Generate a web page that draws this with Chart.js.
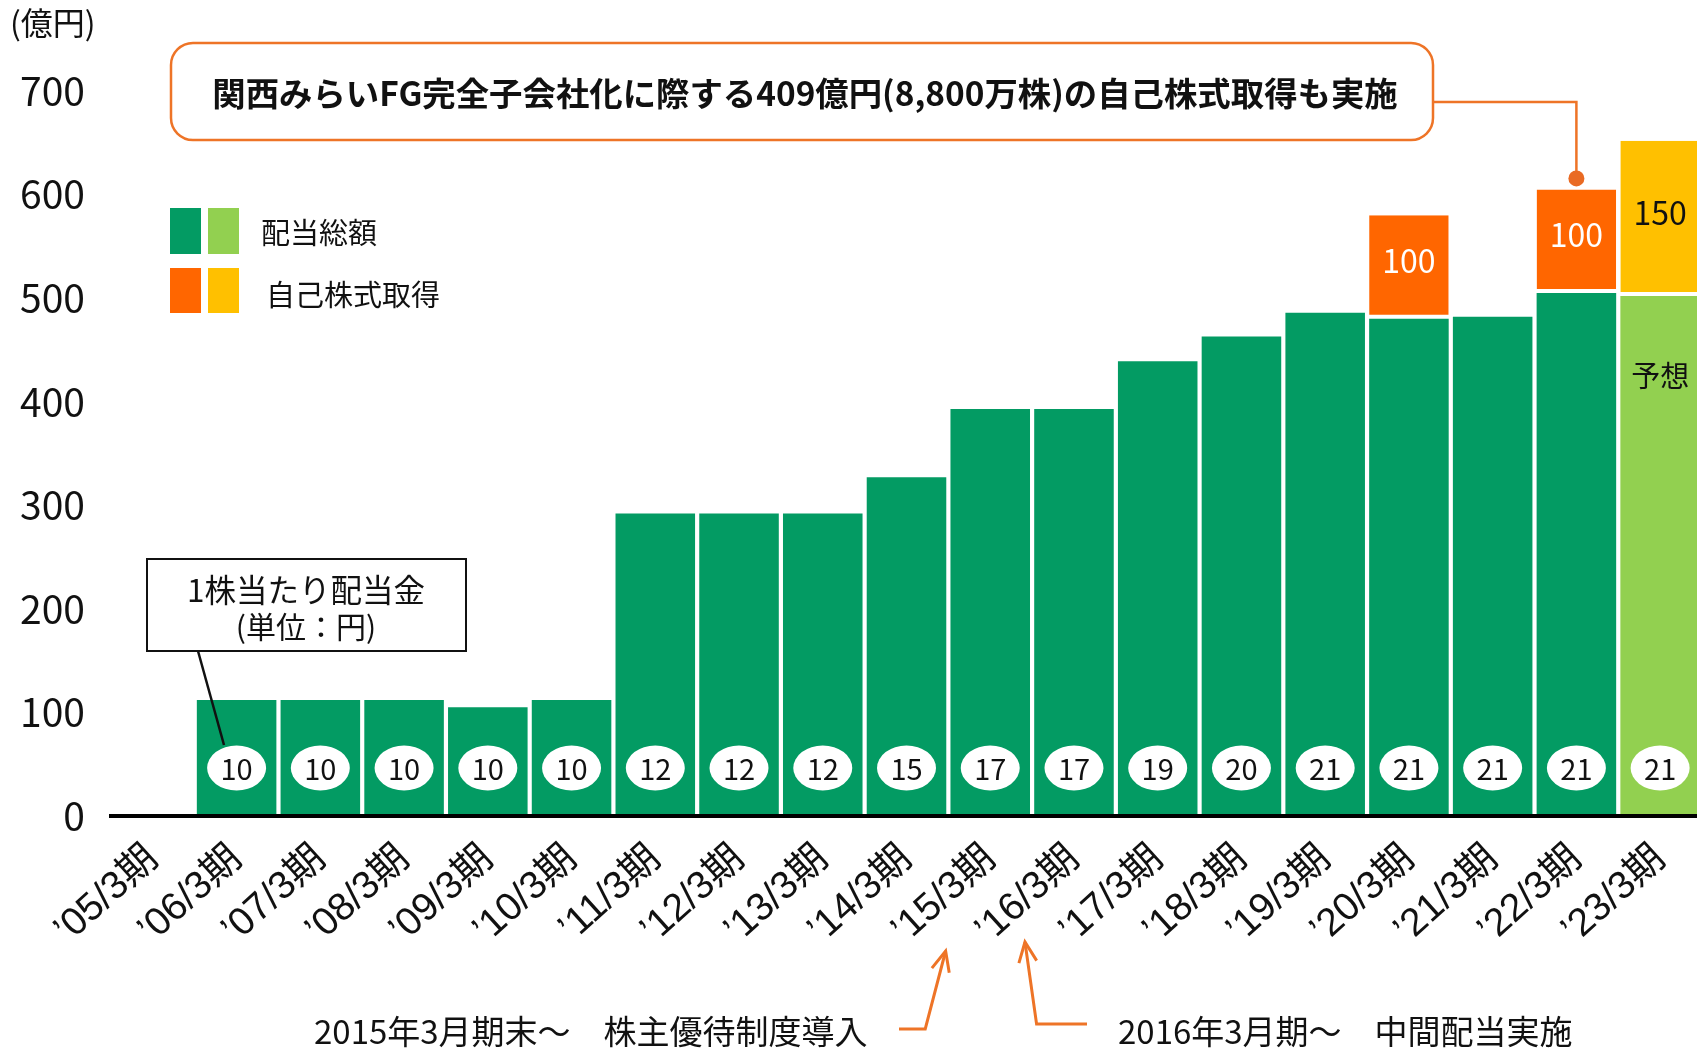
<!DOCTYPE html>
<html lang="ja">
<head>
<meta charset="utf-8">
<title>配当総額と自己株式取得の推移</title>
<script src="https://cdn.jsdelivr.net/npm/chart.js@4.4.1/dist/chart.umd.min.js"></script>
<style>
  html, body { margin: 0; padding: 0; background: #fff; overflow: hidden; }
  #wrap { position: relative; width: 1702px; height: 1050px; }
</style>
</head>
<body>
<div id="wrap"><canvas id="c" width="1702" height="1050"></canvas></div>
<script>
// Fiscal periods (March year-end)
const periods = ['’05/3期','’06/3期','’07/3期','’08/3期','’09/3期','’10/3期','’11/3期','’12/3期','’13/3期','’14/3期',
                 '’15/3期','’16/3期','’17/3期','’18/3期','’19/3期','’20/3期','’21/3期','’22/3期','’23/3期'];

// Total dividends (億円)
const dividendTotal = [null,112,112,112,105,112,292,292,292,327,393,393,439,463,486,480,482,505,null];
// Total dividends, forecast (億円)
const dividendForecast = [null,null,null,null,null,null,null,null,null,null,null,null,null,null,null,null,null,null,502];
// Share buybacks (億円)
const buyback = [null,null,null,null,null,null,null,null,null,null,null,null,null,null,null,100,null,100,null];
// Share buybacks, forecast (億円)
const buybackForecast = [null,null,null,null,null,null,null,null,null,null,null,null,null,null,null,null,null,null,150];
// Dividend per share (円)
const perShareDividend = [null,10,10,10,10,10,12,12,12,15,17,17,19,20,21,21,21,21,21];
// Value axis ticks
const yTicks = [0,100,200,300,400,500,600,700];

const unitLabel = '(億円)';
const calloutText = '関西みらいFG完全子会社化に際する409億円(8,800万株)の自己株式取得も実施';
const perShareTitle = ['1株当たり配当金', '(単位：円)'];
const legendLabels = ['配当総額', '自己株式取得'];
const forecastLabel = '予想';
const noteLeft = '2015年3月期末～　株主優待制度導入';
const noteRight = '2016年3月期～　中間配当実施';

const GREEN = '#039B63', LIGHT = '#92D050', ORANGE = '#FF6600', YELLOW = '#FFC000';
const LINE_ORANGE = '#EE7427';
const JP = '"Noto Sans CJK JP", "Noto Sans", sans-serif';

function arrow(ctx, pts, color) {
  ctx.save();
  ctx.strokeStyle = color; ctx.lineWidth = 3; ctx.lineJoin = 'miter';
  ctx.beginPath();
  ctx.moveTo(pts[0][0], pts[0][1]);
  for (let i = 1; i < pts.length; i++) ctx.lineTo(pts[i][0], pts[i][1]);
  ctx.stroke();
  const [tx, ty] = pts[pts.length - 1];
  const [bx, by] = pts[pts.length - 2];
  const ang = Math.atan2(ty - by, tx - bx);
  const L = 22, spread = 0.42;
  ctx.beginPath();
  ctx.moveTo(tx - L * Math.cos(ang - spread), ty - L * Math.sin(ang - spread));
  ctx.lineTo(tx, ty);
  ctx.lineTo(tx - L * Math.cos(ang + spread), ty - L * Math.sin(ang + spread));
  ctx.stroke();
  ctx.restore();
}

function roundRect(ctx, x, y, w, h, r) {
  ctx.beginPath();
  ctx.moveTo(x + r, y);
  ctx.lineTo(x + w - r, y); ctx.arcTo(x + w, y, x + w, y + r, r);
  ctx.lineTo(x + w, y + h - r); ctx.arcTo(x + w, y + h, x + w - r, y + h, r);
  ctx.lineTo(x + r, y + h); ctx.arcTo(x, y + h, x, y + h - r, r);
  ctx.lineTo(x, y + r); ctx.arcTo(x, y, x + r, y, r);
  ctx.closePath();
}

const decorations = {
  id: 'decorations',
  afterDatasetsDraw(chart) {
    const { ctx, scales: { x, y } } = chart;
    const zeroY = y.getPixelForValue(0);
    ctx.save();

    // per-share dividend badges
    ctx.textAlign = 'center'; ctx.textBaseline = 'middle';
    perShareDividend.forEach((v, i) => {
      if (v == null) return;
      const cx = x.getPixelForValue(i), cy = zeroY - 48;
      ctx.beginPath();
      ctx.ellipse(cx, cy, 29.5, 22.5, 0, 0, Math.PI * 2);
      ctx.fillStyle = '#fff'; ctx.fill();
      ctx.fillStyle = '#111';
      ctx.font = '29px ' + JP;
      ctx.fillText(String(v), cx, cy + 1);
    });

    // values on buyback segments
    [[2, '#fff'], [3, '#111']].forEach(([di, col]) => {
      const meta = chart.getDatasetMeta(di);
      const src = chart.data.datasets[di].data;
      meta.data.forEach((el, i) => {
        if (src[i] == null) return;
        ctx.fillStyle = col;
        ctx.font = '32px ' + JP;
        ctx.fillText(String(src[i]), el.x, (el.y + el.base) / 2 - 6);
      });
    });

    // forecast tag
    const fMeta = chart.getDatasetMeta(1);
    const fIdx = dividendForecast.findIndex(v => v != null);
    const fEl = fMeta.data[fIdx];
    ctx.fillStyle = '#111';
    ctx.font = '29px ' + JP;
    ctx.fillText(forecastLabel, fEl.x, fEl.y + 80);

    // unit label
    ctx.textAlign = 'left';
    ctx.font = '32px ' + JP;
    ctx.fillText(unitLabel, 10, 23);

    // legend
    ctx.fillStyle = GREEN; ctx.fillRect(170, 208, 31, 46);
    ctx.fillStyle = LIGHT; ctx.fillRect(208, 208, 31, 46);
    ctx.fillStyle = ORANGE; ctx.fillRect(170, 268, 31, 45);
    ctx.fillStyle = YELLOW; ctx.fillRect(208, 268, 31, 45);
    ctx.fillStyle = '#111';
    ctx.font = '29px ' + JP;
    ctx.fillText(legendLabels[0], 261, 233);
    ctx.fillText(legendLabels[1], 266, 295);

    // callout about the 関西みらいFG buyback
    const bx = 171, by = 43, bw = 1262, bh = 97;
    roundRect(ctx, bx, by, bw, bh, 22);
    ctx.fillStyle = '#fff'; ctx.fill();
    ctx.strokeStyle = LINE_ORANGE; ctx.lineWidth = 2.5; ctx.stroke();
    ctx.fillStyle = '#111';
    ctx.textAlign = 'center';
    ctx.font = 'bold 33.4px ' + JP;
    ctx.fillText(calloutText, 805, 93);
    const i22 = 17;
    const px = x.getPixelForValue(i22);
    const topY = y.getPixelForValue(dividendTotal[i22] + buyback[i22]);
    ctx.beginPath();
    ctx.moveTo(bx + bw, 102); ctx.lineTo(px, 102); ctx.lineTo(px, topY - 11);
    ctx.lineWidth = 2.5; ctx.stroke();
    ctx.beginPath(); ctx.arc(px, topY - 11, 8, 0, Math.PI * 2);
    ctx.fillStyle = '#E96A23'; ctx.fill();

    // per-share dividend caption box
    ctx.fillStyle = '#fff';
    ctx.fillRect(147, 559, 319, 92);
    ctx.strokeStyle = '#111'; ctx.lineWidth = 2;
    ctx.strokeRect(147, 559, 319, 92);
    ctx.fillStyle = '#111';
    ctx.font = '31.5px ' + JP;
    ctx.fillText(perShareTitle[0], 306, 590);
    ctx.font = '30px ' + JP;
    ctx.fillText(perShareTitle[1], 306, 627);
    const c1x = x.getPixelForValue(1), c1y = zeroY - 48;
    ctx.beginPath();
    ctx.moveTo(198, 651); ctx.lineTo(c1x - 12.6, c1y - 23);
    ctx.lineWidth = 2.5; ctx.stroke();

    // notes below the axis
    ctx.font = '33px ' + JP;
    ctx.textAlign = 'left';
    ctx.fillText(noteLeft, 314, 1031);
    ctx.fillText(noteRight, 1118, 1031);
    const t15 = x.getPixelForValue(10), t16 = x.getPixelForValue(11);
    arrow(ctx, [[899, 1029], [t15 - 65, 1029], [t15 - 44.6, 951]], LINE_ORANGE);
    arrow(ctx, [[1087, 1024], [t16 - 37.4, 1024], [t16 - 49, 942]], LINE_ORANGE);

    ctx.restore();
  }
};

new Chart(document.getElementById('c'), {
  type: 'bar',
  data: {
    labels: periods,
    datasets: [
      { label: '配当総額', data: dividendTotal, backgroundColor: GREEN },
      { label: '配当総額（予想）', data: dividendForecast, backgroundColor: LIGHT },
      { label: '自己株式取得', data: buyback, backgroundColor: ORANGE,
        borderColor: '#fff', borderWidth: { top: 0, right: 0, bottom: 4, left: 0 }, borderSkipped: false },
      { label: '自己株式取得（予想）', data: buybackForecast, backgroundColor: YELLOW,
        borderColor: '#fff', borderWidth: { top: 0, right: 0, bottom: 4, left: 0 }, borderSkipped: false }
    ]
  },
  options: {
    responsive: false,
    animation: false,
    devicePixelRatio: 1,
    layout: { padding: { top: 91, left: 0, right: 0, bottom: 0 } },
    datasets: { bar: { barPercentage: 0.95, categoryPercentage: 1 } },
    plugins: { legend: { display: false }, tooltip: { enabled: false } },
    scales: {
      x: {
        stacked: true,
        grid: { display: false, drawTicks: false },
        border: { display: true, color: '#000', width: 4, z: 1 },
        ticks: {
          autoSkip: false, minRotation: 42, maxRotation: 42, padding: 20,
          color: '#111',
          font: { family: '"Liberation Sans", "Noto Sans CJK JP", sans-serif', size: 39 }
        },
        afterFit(s) { s.height = 234; s.paddingLeft = 0; s.paddingRight = 0; }
      },
      y: {
        stacked: true, min: 0, max: 700,
        grid: { display: false, drawTicks: false },
        border: { display: false },
        afterBuildTicks(s) { s.ticks = yTicks.map(v => ({ value: v })); },
        ticks: { padding: 26, color: '#111', font: { family: JP, size: 39 } },
        afterFit(s) { s.width = 111; }
      }
    }
  },
  plugins: [decorations]
});
</script>
</body>
</html>
